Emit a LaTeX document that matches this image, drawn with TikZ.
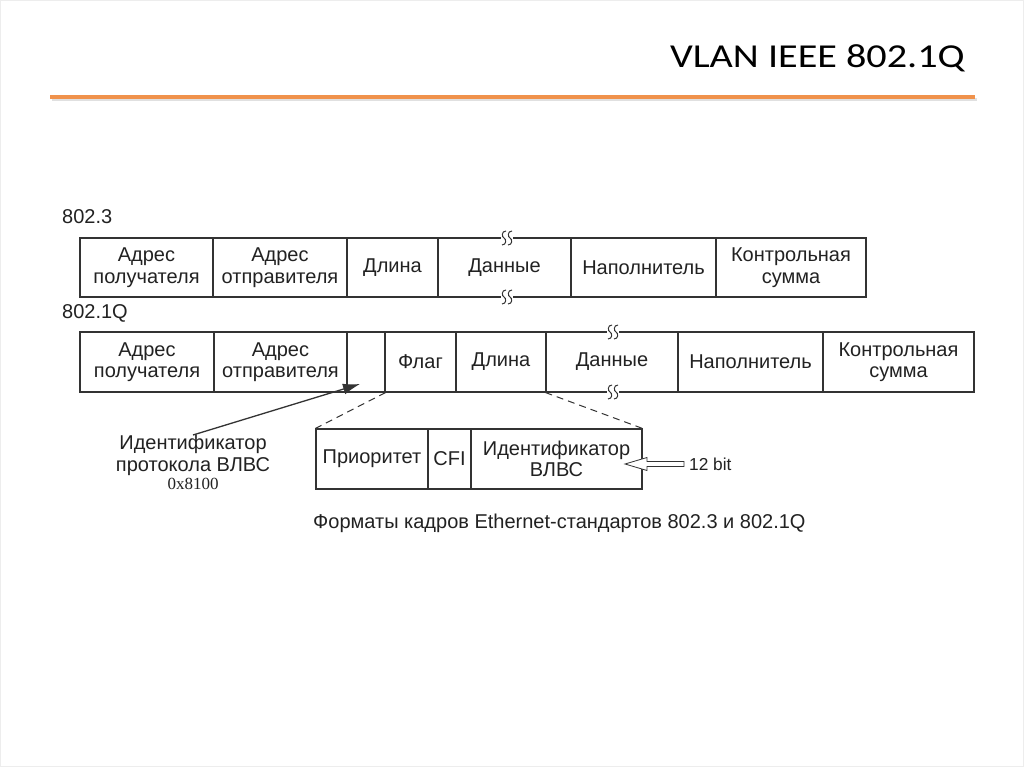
\documentclass[tikz,border=0pt]{standalone}
\usepackage{fontspec}
\setmainfont{Liberation Sans}
\newfontfamily\titlefont[FakeStretch=1.2]{Carlito}
\newfontfamily\seriffont{Liberation Serif}
\usetikzlibrary{calc,arrows.meta}
\definecolor{txt}{HTML}{222222}
\definecolor{ln}{HTML}{333333}
\definecolor{accent}{HTML}{F0924C}
\tikzset{
  cell/.style={draw=ln, line width=1.1pt, text=txt, align=center, inner sep=0pt,
    font=\fontsize{20}{21.5}\selectfont},
  lbl/.style={text=txt, inner sep=0pt, font=\fontsize{20}{21.5}\selectfont},
  dashline/.style={draw=ln, line width=1pt, dash pattern=on 7pt off 5pt},
  squig/.style={draw=ln, line width=1pt},
}
\newcommand{\oneS}[2]{%
  \draw[squig] (#1+2,#2-7) .. controls (#1-2.5,#2-7) and (#1-2.5,#2-1) .. (#1,#2)
    .. controls (#1+2.5,#2+1) and (#1+2.5,#2+7) .. (#1-2,#2+7);
}
\newcommand{\squiggle}[2]{%
  \fill[white] (#1-6,#2-1.6) rectangle (#1+6,#2+1.6);
  \oneS{#1-3}{#2}
  \oneS{#1+3}{#2}
}
\begin{document}
\begin{tikzpicture}[x=1pt,y=-1pt]
\useasboundingbox (0,0) rectangle (1024,767);
\fill[white] (0,0) rectangle (1024,767);
\draw[black!7, line width=1pt] (0.5,0.5) rectangle (1023.5,766.5);
% title
\node[anchor=base east, inner sep=0pt, font=\titlefont\fontsize{33.5}{36}\selectfont] (title) at (965,68) {VLAN IEEE 802.1Q};
\draw[black!12, line width=3pt] (52,100) -- (977,100);
\draw[accent, line width=4pt] (50,97) -- (975,97);

% 802.3
\node[lbl, anchor=base west] (l1) at (62,223) {802.3};
\node[cell, minimum width=133pt, minimum height=59pt] (a1) at (146.5,267.5) {Адрес\\получателя};
\node[cell, minimum width=134pt, minimum height=59pt] (a2) at (280,267.5) {Адрес\\отправителя};
\node[cell, minimum width=91pt, minimum height=59pt] (a3) at (392.5,267.5) {Длина};
\node[cell, minimum width=133pt, minimum height=59pt] (a4) at (504.5,267.5) {Данные};
\node[cell, minimum width=145pt, minimum height=59pt] (a5) at (643.5,267.5) {Наполнитель};
\node[cell, minimum width=150pt, minimum height=59pt] (a6) at (791,267.5) {Контрольная\\сумма};
\squiggle{507}{238}
\squiggle{507}{297}

% 802.1Q
\node[lbl, anchor=base west] (l2) at (62,318) {802.1Q};
\node[cell, minimum width=134pt, minimum height=60pt] (b1) at (147,362) {Адрес\\получателя};
\node[cell, minimum width=133pt, minimum height=60pt] (b2) at (280.5,362) {Адрес\\отправителя};
\node[cell, minimum width=38pt, minimum height=60pt] (b3) at (366,362) {};
\node[cell, minimum width=71pt, minimum height=60pt] (b4) at (420.5,362) {Флаг};
\node[cell, minimum width=90pt, minimum height=60pt] (b5) at (501,362) {Длина};
\node[cell, minimum width=132pt, minimum height=60pt] (b6) at (612,362) {Данные};
\node[cell, minimum width=145pt, minimum height=60pt] (b7) at (750.5,362) {Наполнитель};
\node[cell, minimum width=151pt, minimum height=60pt] (b8) at (898.5,362) {Контрольная\\сумма};
\squiggle{613}{332}
\squiggle{613}{392}

% tag
\node[cell, minimum width=112pt, minimum height=60pt] (t1) at (372,459) {Приоритет};
\node[cell, minimum width=43pt, minimum height=60pt] (t2) at (449.5,459) {CFI};
\node[cell, minimum width=171pt, minimum height=60pt] (t3) at (556.5,459) {Идентификатор\\ВЛВС};
\draw[dashline] (b3.south east) -- (t1.north west);
\draw[dashline] (b6.south west) -- (t3.north east);

% protocol id label and arrow
\node[lbl, align=center, anchor=north, font=\fontsize{20}{22}\selectfont] (pid) at (193,435) {Идентификатор\\протокола ВЛВС\\[-4pt]{\seriffont\fontsize{17}{18}\selectfont 0x8100}};
\coordinate (tip) at (360,384);
\draw[ln, line width=1.3pt, -{Latex[length=17pt,width=11pt]}] (pid.north) -- (tip);

% 12 bit
\node[lbl, anchor=west, font=\fontsize{17.3}{19}\selectfont] (bit) at (689,464) {12 bit};
\coordinate (htip) at (625,464);
\draw[ln, line width=0.8pt, fill=white]
  (htip) -- ($(htip)+(22,-6.5)$) -- ($(htip)+(22,-2.5)$) -- ($(bit.west)+(-5,-2.5)$)
  -- ($(bit.west)+(-5,2.5)$) -- ($(htip)+(22,2.5)$) -- ($(htip)+(22,6.5)$) -- cycle;

% caption
\node[lbl, anchor=base west] (cap) at (313,528) {Форматы кадров Ethernet-стандартов 802.3 и 802.1Q};
\end{tikzpicture}
\end{document}
